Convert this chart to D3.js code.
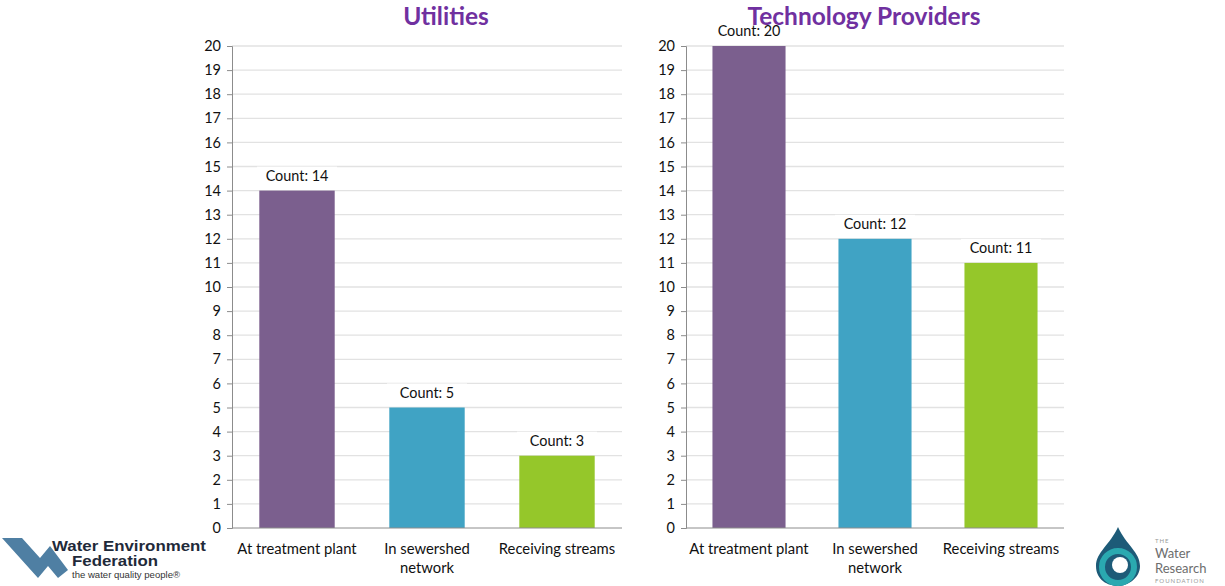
<!DOCTYPE html>
<html>
<head>
<meta charset="utf-8">
<script src="https://cdn.jsdelivr.net/npm/d3@7"></script>
<style>
  body { margin: 0; background: #fff; }
  text { font-family: Lato, "Open Sans", sans-serif; }
</style>
</head>
<body>
<div id="chart"></div>
<script>
// data
var categories = ["At treatment plant", "In sewershed network", "Receiving streams"];
var utilitiesCounts = [14, 5, 3];
var providersCounts = [20, 12, 11];
var yTicks = d3.range(0, 21);
var barColors = ["#7B5F8E", "#40A3C4", "#95C72A"];

var width = 1225, height = 586;

var svg = d3.select("#chart").append("svg")
  .attr("width", width)
  .attr("height", height);

// y scale shared by both panels
var yScale = d3.scaleLinear().domain([0, 20]).range([528, 46]);

function drawPanel(title, counts, x0, x1, titleX) {
  var g = svg.append("g");

  var xScale = d3.scaleBand()
    .domain(categories)
    .range([x0, x1])
    .paddingInner(0.42)
    .paddingOuter(0.21);

  // gridlines
  g.selectAll("line.grid").data(yTicks.filter(function(d) { return d > 0; }))
    .enter().append("line")
    .attr("class", "grid")
    .attr("x1", x0).attr("x2", x1)
    .attr("y1", function(d) { return yScale(d); })
    .attr("y2", function(d) { return yScale(d); })
    .attr("stroke", "#e2e2e2")
    .attr("stroke-width", 1.3);

  // y axis
  var yAxis = d3.axisLeft(yScale).tickValues(yTicks).tickSize(5).tickPadding(6);
  var ya = g.append("g")
    .attr("transform", "translate(" + x0 + ",0)")
    .call(yAxis);
  ya.select(".domain").attr("stroke", "#8c8c8c");
  ya.selectAll(".tick line").attr("stroke", "#8c8c8c");
  ya.selectAll(".tick text")
    .style("font-family", "Lato, sans-serif")
    .style("font-size", "14.5px")
    .attr("fill", "#111");

  // bars
  g.selectAll("rect.bar").data(counts)
    .enter().append("rect")
    .attr("class", "bar")
    .attr("x", function(d, i) { return xScale(categories[i]); })
    .attr("width", xScale.bandwidth())
    .attr("y", function(d) { return yScale(d); })
    .attr("height", function(d) { return yScale(0) - yScale(d); })
    .attr("fill", function(d, i) { return barColors[i]; });

  // x axis baseline
  g.append("line")
    .attr("x1", x0).attr("x2", x1)
    .attr("y1", yScale(0)).attr("y2", yScale(0))
    .attr("stroke", "#8c8c8c");

  // count labels with white background
  var labels = g.selectAll("g.lab").data(counts)
    .enter().append("g")
    .attr("class", "lab")
    .attr("transform", function(d, i) {
      return "translate(" + (xScale(categories[i]) + xScale.bandwidth() / 2) + "," + (yScale(d) - 12) + ")";
    });
  labels.append("rect")
    .attr("x", -40).attr("y", -12)
    .attr("width", 80).attr("height", 18)
    .attr("fill", "#fff");
  labels.append("text")
    .attr("text-anchor", "middle")
    .attr("y", 2)
    .style("font-size", "14.4px")
    .attr("fill", "#111")
    .text(function(d) { return "Count: " + d; });

  // category labels
  var catLines = [["At treatment plant"], ["In sewershed", "network"], ["Receiving streams"]];
  categories.forEach(function(c, i) {
    var t = g.append("text")
      .attr("text-anchor", "middle")
      .attr("x", xScale(c) + xScale.bandwidth() / 2)
      .attr("y", 554)
      .style("font-size", "14.8px")
      .attr("fill", "#111");
    catLines[i].forEach(function(line, k) {
      t.append("tspan")
        .attr("x", xScale(c) + xScale.bandwidth() / 2)
        .attr("dy", k === 0 ? 0 : 19)
        .text(line);
    });
  });

  // title
  g.append("text")
    .attr("x", titleX)
    .attr("y", 25)
    .attr("text-anchor", "middle")
    .style("font-size", "24.5px")
    .style("font-weight", "bold")
    .attr("fill", "#7030A0")
    .text(title);
}

drawPanel("Utilities", utilitiesCounts, 232, 622, 446);
drawPanel("Technology Providers", providersCounts, 686, 1064, 864);

// Water Environment Federation logo (approximation)
var wef = svg.append("g");
wef.append("path")
  .attr("d", "M2,538 L22,538 L40,558 L50,546 L68,570 L58,578 L48,566 L38,578 Z")
  .attr("fill", "#4f7fa3");
wef.append("text").attr("x", 52).attr("y", 551)
  .style("font-family", "'Liberation Sans', Arial, sans-serif")
  .style("font-size", "14.5px").style("font-weight", "bold")
  .attr("textLength", 154).attr("lengthAdjust", "spacingAndGlyphs")
  .attr("fill", "#1f2a3a").text("Water Environment");
wef.append("text").attr("x", 72).attr("y", 566)
  .style("font-family", "'Liberation Sans', Arial, sans-serif")
  .style("font-size", "14.5px").style("font-weight", "bold")
  .attr("textLength", 86).attr("lengthAdjust", "spacingAndGlyphs")
  .attr("fill", "#1f2a3a").text("Federation");
wef.append("text").attr("x", 72).attr("y", 578)
  .style("font-family", "'Liberation Sans', Arial, sans-serif")
  .style("font-size", "8.5px")
  .attr("textLength", 108).attr("lengthAdjust", "spacingAndGlyphs")
  .attr("fill", "#333").text("the water quality people\u00ae");

// Water Research Foundation logo (approximation)
var wrf = svg.append("g");
wrf.append("path")
  .attr("d", "M1118,527 C1110,545 1096,552 1096,566 C1096,580 1108,586 1118,586 C1128,586 1140,578 1140,566 C1140,552 1126,545 1118,527 Z")
  .attr("fill", "#1d5b78");
wrf.append("circle").attr("cx", 1118).attr("cy", 567).attr("r", 16)
  .attr("fill", "none").attr("stroke", "#2aa9b0").attr("stroke-width", 6);
wrf.append("circle").attr("cx", 1120).attr("cy", 565).attr("r", 8)
  .attr("fill", "#fff");
wrf.append("text").attr("x", 1155).attr("y", 543)
  .style("font-size", "6px").attr("fill", "#999").style("letter-spacing", "1px").text("THE");
wrf.append("text").attr("x", 1155).attr("y", 558)
  .style("font-size", "13px").attr("fill", "#6d6d6d").text("Water");
wrf.append("text").attr("x", 1155).attr("y", 573)
  .style("font-size", "13px").attr("fill", "#6d6d6d").text("Research");
wrf.append("text").attr("x", 1155).attr("y", 583)
  .style("font-size", "6px").attr("fill", "#999").style("letter-spacing", "1px").text("FOUNDATION");
</script>
</body>
</html>
